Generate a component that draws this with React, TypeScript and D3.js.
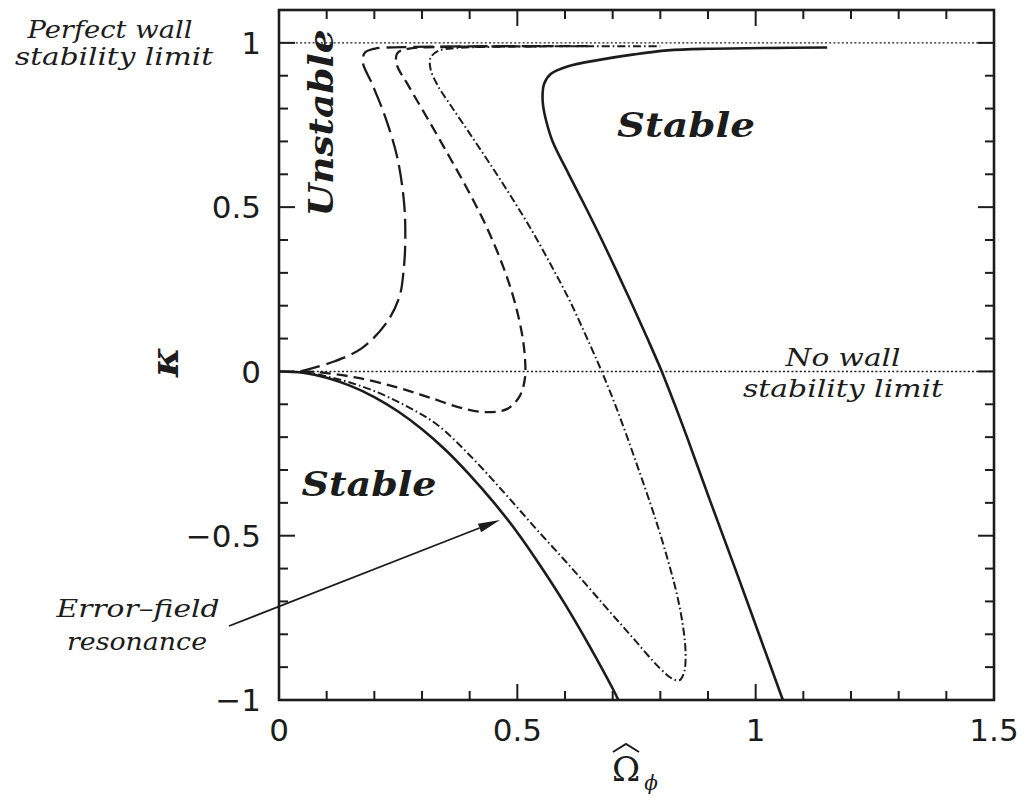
import React from 'react';
import * as d3 from 'd3';

// ---- Data ----
const xTickValues = [0, 0.5, 1, 1.5];
const xTickLabels = ['0', '0.5', '1', '1.5'];
const yTickValues = [-1, -0.5, 0, 0.5, 1];
const yTickLabels = ['−1', '−0.5', '0', '0.5', '1'];
const limitLevels = [0, 1]; // no-wall and perfect-wall stability limits

// solid lower branch (error-field resonance)
const solidLower: [number, number][] = [
  [0, 0], [0.05, -0.004], [0.1, -0.019], [0.15, -0.044], [0.2, -0.078], [0.25, -0.122],
  [0.3, -0.176], [0.35, -0.24], [0.4, -0.315], [0.45, -0.398], [0.5, -0.49], [0.55, -0.595],
  [0.6, -0.708], [0.65, -0.832], [0.7, -0.965], [0.712, -1],
];
// solid right curve
const solidRight: [number, number][] = [
  [1.057, -1], [1.007, -0.8], [0.957, -0.6], [0.906, -0.4], [0.856, -0.2], [0.83, -0.1],
  [0.803, 0], [0.773, 0.1], [0.742, 0.2], [0.71, 0.3], [0.674, 0.41], [0.638, 0.515],
  [0.608, 0.6], [0.574, 0.7], [0.561, 0.76], [0.554, 0.81], [0.553, 0.845], [0.556, 0.875],
  [0.57, 0.905], [0.605, 0.928], [0.675, 0.949], [0.745, 0.965], [0.815, 0.977], [0.9, 0.982],
  [1.15, 0.986],
];
// dash-dot curve
const dashDot: [number, number][] = [
  [0.05, 0], [0.12, -0.022], [0.19, -0.054], [0.26, -0.1], [0.33, -0.16], [0.4, -0.255],
  [0.47, -0.365], [0.54, -0.48], [0.61, -0.592], [0.68, -0.708], [0.74, -0.807], [0.8, -0.905],
  [0.825, -0.935], [0.84, -0.94], [0.85, -0.915], [0.853, -0.86], [0.848, -0.78], [0.835, -0.68],
  [0.815, -0.57], [0.79, -0.45], [0.762, -0.33], [0.733, -0.21], [0.705, -0.1], [0.677, 0],
  [0.645, 0.105], [0.61, 0.215], [0.572, 0.32], [0.532, 0.425], [0.49, 0.525], [0.447, 0.622],
  [0.402, 0.72], [0.36, 0.81], [0.333, 0.87], [0.318, 0.92], [0.318, 0.955], [0.333, 0.975],
  [0.37, 0.984], [0.45, 0.988], [0.8, 0.99],
];
// short-dash curve
const shortDash: [number, number][] = [
  [0.05, 0], [0.085, -0.003], [0.16, -0.018], [0.246, -0.048], [0.317, -0.08], [0.387, -0.113],
  [0.437, -0.124], [0.479, -0.114], [0.505, -0.075], [0.516, -0.02], [0.516, 0.04], [0.51, 0.112],
  [0.494, 0.214], [0.471, 0.316], [0.436, 0.438], [0.397, 0.55], [0.358, 0.652], [0.318, 0.754],
  [0.273, 0.866], [0.247, 0.935], [0.248, 0.968], [0.27, 0.982], [0.33, 0.987], [0.65, 0.99],
];
// long-dash curve
const longDash: [number, number][] = [
  [0.045, 0], [0.117, 0.031], [0.174, 0.071], [0.223, 0.143], [0.252, 0.224], [0.262, 0.316],
  [0.265, 0.418], [0.262, 0.519], [0.248, 0.652], [0.223, 0.774], [0.195, 0.876], [0.176, 0.94],
  [0.18, 0.97], [0.2, 0.982], [0.26, 0.987], [0.55, 0.99],
];

const INK = '#1c1c1c';
const SERIF = "'DejaVu Serif', 'Liberation Serif', serif";
const SANS = "'DejaVu Sans', 'Liberation Sans', sans-serif";

export default function App() {
  const W = 1025;
  const H = 800;
  const x = d3.scaleLinear().domain([0, 1.5]).range([279, 994]);
  const y = d3.scaleLinear().domain([-1, 1.1]).range([700, 10]);
  const line = d3
    .line<[number, number]>()
    .x((d) => x(d[0]))
    .y((d) => y(d[1]))
    .curve(d3.curveCatmullRom.alpha(0.5));

  const [x0, x1] = x.range();
  const [yb, yt] = y.range();

  const xMinor = d3.range(0, 1.5001, 0.1);
  const yMinor = d3.range(-1, 1.05, 0.1);
  const isMajor = (v: number) => Math.abs(v * 2 - Math.round(v * 2)) < 1e-6;

  const curves = [
    { d: solidLower, dash: 'none', w: 2.6 },
    { d: solidRight, dash: 'none', w: 2.6 },
    { d: dashDot, dash: '8 3 1.6 3', w: 2.0 },
    { d: shortDash, dash: '11 6', w: 2.3 },
    { d: longDash, dash: '20 7', w: 2.3 },
  ];

  // arrow geometry (annotation)
  const ax0 = 229, ay0 = 626, ax1 = 500, ay1 = 520;
  const ang = Math.atan2(ay1 - ay0, ax1 - ax0);
  const hl = 22, hw = 4.5;
  const bx = ax1 - hl * Math.cos(ang), by = ay1 - hl * Math.sin(ang);
  const head = `M${ax1},${ay1} L${bx - hw * Math.sin(ang)},${by + hw * Math.cos(ang)} L${bx + hw * Math.sin(ang)},${by - hw * Math.cos(ang)} Z`;

  const omegaX = 626;

  return (
    <svg width={W} height={H} style={{ position: 'absolute', left: 0, top: 0, background: '#fff' }}>
      <rect width={W} height={H} fill="#fff" />
      {/* reference limit lines */}
      {limitLevels.map((v) => (
        <line key={v} x1={x0} x2={x1} y1={y(v)} y2={y(v)} stroke={INK} strokeWidth={1.4} strokeDasharray="2 2.2" />
      ))}
      {/* curves */}
      {curves.map((c, i) => (
        <path key={i} d={line(c.d) || ''} fill="none" stroke={INK} strokeWidth={c.w}
          strokeDasharray={c.dash === 'none' ? undefined : c.dash} strokeLinecap="butt" strokeLinejoin="round" />
      ))}
      {/* frame */}
      <rect x={x0} y={yt} width={x1 - x0} height={yb - yt} fill="none" stroke={INK} strokeWidth={2.6} />
      {/* x ticks (bottom & top, inward) */}
      {xMinor.map((v, i) => {
        const L = isMajor(v) ? 16 : 9;
        return (
          <g key={'xt' + i}>
            <line x1={x(v)} x2={x(v)} y1={yb} y2={yb - L} stroke={INK} strokeWidth={2} />
            <line x1={x(v)} x2={x(v)} y1={yt} y2={yt + L} stroke={INK} strokeWidth={2} />
          </g>
        );
      })}
      {/* y ticks (left & right, inward) */}
      {yMinor.map((v, i) => {
        const L = isMajor(v) ? 16 : 9;
        return (
          <g key={'yt' + i}>
            <line x1={x0} x2={x0 + L} y1={y(v)} y2={y(v)} stroke={INK} strokeWidth={2} />
            <line x1={x1} x2={x1 - L} y1={y(v)} y2={y(v)} stroke={INK} strokeWidth={2} />
          </g>
        );
      })}
      {/* tick labels */}
      {xTickValues.map((v, i) => (
        <text key={'xl' + i} x={x(v)} y={741} textAnchor="middle" fontFamily={SANS} fontSize={31} fill={INK}>
          {xTickLabels[i]}
        </text>
      ))}
      {yTickValues.map((v, i) => (
        <text key={'yl' + i} x={261} y={y(v)} dy="0.36em" textAnchor="end" fontFamily={SANS} fontSize={31} fill={INK}>
          {yTickLabels[i]}
        </text>
      ))}
      {/* axis titles */}
      <text x={178} y={362} transform="rotate(-90 178 362)" textAnchor="middle" fontFamily={SERIF}
        fontStyle="italic" fontWeight="bold" fontSize={40} fill={INK}>κ</text>
      <text x={omegaX} y={781} textAnchor="middle" fontFamily={SERIF} fontSize={34} fill={INK}>Ω</text>
      <path d={`M${omegaX - 13},${752} L${omegaX},${744} L${omegaX + 13},${752}`} fill="none" stroke={INK} strokeWidth={2} />
      <text x={651} y={790} textAnchor="middle" fontFamily={SERIF} fontStyle="italic" fontSize={20} fill={INK}>ϕ</text>

      {/* region labels */}
      <text x={333} y={123} transform="rotate(-90 333 123)" textAnchor="middle" fontFamily={SERIF}
        fontStyle="italic" fontWeight="bold" fontSize={33} fill={INK} textLength={187} lengthAdjust="spacingAndGlyphs">Unstable</text>
      <text x={686} y={137} textAnchor="middle" fontFamily={SERIF} fontStyle="italic" fontWeight="bold"
        fontSize={33} fill={INK} textLength={138} lengthAdjust="spacingAndGlyphs">Stable</text>
      <text x={369} y={496} textAnchor="middle" fontFamily={SERIF} fontStyle="italic" fontWeight="bold"
        fontSize={33} fill={INK} textLength={135} lengthAdjust="spacingAndGlyphs">Stable</text>

      {/* annotations */}
      <text x={110} y={38} textAnchor="middle" fontFamily={SERIF} fontStyle="italic" fontSize={24} fill={INK}
        textLength={165} lengthAdjust="spacingAndGlyphs">Perfect wall</text>
      <text x={114} y={65} textAnchor="middle" fontFamily={SERIF} fontStyle="italic" fontSize={24} fill={INK}
        textLength={198} lengthAdjust="spacingAndGlyphs">stability limit</text>
      <text x={843} y={366} textAnchor="middle" fontFamily={SERIF} fontStyle="italic" fontSize={24} fill={INK}
        textLength={115} lengthAdjust="spacingAndGlyphs">No wall</text>
      <text x={843} y={397} textAnchor="middle" fontFamily={SERIF} fontStyle="italic" fontSize={24} fill={INK}
        textLength={200} lengthAdjust="spacingAndGlyphs">stability limit</text>
      <text x={138} y={617} textAnchor="middle" fontFamily={SERIF} fontStyle="italic" fontSize={24} fill={INK}
        textLength={163} lengthAdjust="spacingAndGlyphs">Error–field</text>
      <text x={137} y={650} textAnchor="middle" fontFamily={SERIF} fontStyle="italic" fontSize={24} fill={INK}
        textLength={140} lengthAdjust="spacingAndGlyphs">resonance</text>
      <line x1={ax0} y1={ay0} x2={bx} y2={by} stroke={INK} strokeWidth={1.8} />
      <path d={head} fill={INK} />
    </svg>
  );
}
